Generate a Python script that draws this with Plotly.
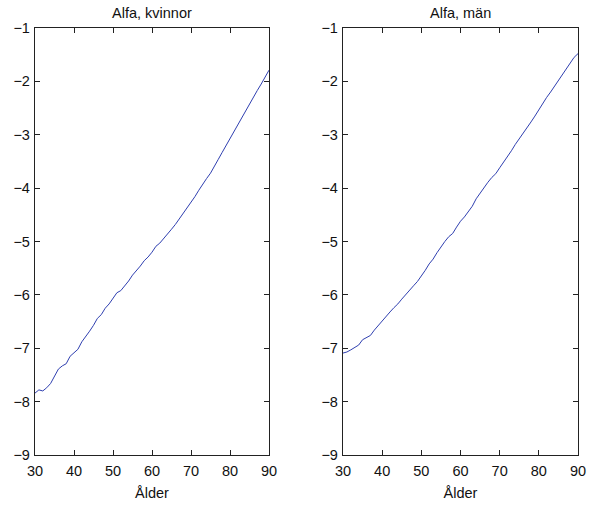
import plotly.graph_objects as go
from plotly.subplots import make_subplots

ages = list(range(30, 91))
alfa_kvinnor = [-7.84, -7.78, -7.80, -7.74, -7.66, -7.53, -7.39, -7.33, -7.29, -7.15,
                -7.09, -7.02, -6.88, -6.79, -6.68, -6.57, -6.44, -6.37, -6.25, -6.17,
                -6.06, -5.96, -5.92, -5.84, -5.74, -5.63, -5.55, -5.46, -5.36, -5.29,
                -5.20, -5.09, -5.03, -4.95, -4.86, -4.77, -4.68, -4.58, -4.48, -4.37,
                -4.27, -4.16, -4.04, -3.92, -3.82, -3.72, -3.60, -3.46, -3.33, -3.20,
                -3.06, -2.94, -2.80, -2.67, -2.55, -2.43, -2.30, -2.17, -2.05, -1.93,
                -1.79]
alfa_man = [-7.09, -7.07, -7.03, -6.99, -6.94, -6.84, -6.80, -6.76, -6.66, -6.57,
            -6.50, -6.41, -6.32, -6.24, -6.17, -6.08, -5.99, -5.91, -5.83, -5.75,
            -5.65, -5.54, -5.42, -5.33, -5.21, -5.10, -5.00, -4.91, -4.85, -4.73,
            -4.62, -4.54, -4.45, -4.34, -4.20, -4.09, -3.98, -3.89, -3.80, -3.73,
            -3.62, -3.52, -3.41, -3.30, -3.18, -3.08, -2.98, -2.86, -2.76, -2.65,
            -2.53, -2.41, -2.30, -2.20, -2.09, -1.99, -1.87, -1.75, -1.65, -1.55,
            -1.48]
titles = ["Alfa, kvinnor", "Alfa, män"]
x_title = "Ålder"
x_ticks = [30, 40, 50, 60, 70, 80, 90]
y_ticks = [-9, -8, -7, -6, -5, -4, -3, -2, -1]

W, H = 593, 505
fig = make_subplots(rows=1, cols=2)
line_color = "#2f3fb0"
for i, ys in enumerate([alfa_kvinnor, alfa_man]):
    fig.add_trace(go.Scatter(x=ages, y=ys, mode="lines",
                             line=dict(color=line_color, width=1),
                             showlegend=False, hoverinfo="skip"), row=1, col=i + 1)

font = dict(family="Liberation Sans, Arial, sans-serif", size=14.5, color="#111")
xdoms = [(35 / W, 269 / W), (343 / W, 578 / W)]
ydom = (1 - 455 / H, 1 - 28 / H)
for i in range(2):
    sfx = "" if i == 0 else "2"
    fig.layout["xaxis" + sfx].update(
        domain=list(xdoms[i]), range=[30, 90], tickvals=x_ticks, automargin=False,
        ticks="inside", ticklen=5, tickcolor="#222", showline=True, linecolor="#222",
        linewidth=1.3, mirror="allticks", showgrid=False, zeroline=False,
        tickfont=font, ticklabelstandoff=2,
        title=dict(text=x_title, font=font, standoff=10))
    fig.layout["yaxis" + sfx].update(
        domain=list(ydom), range=[-9, -1], tickvals=y_ticks, automargin=False,
        ticks="inside", ticklen=5, tickcolor="#222", showline=True, linecolor="#222",
        linewidth=1.3, mirror="allticks", showgrid=False, zeroline=False,
        tickfont=font, ticklabelstandoff=1)
    fig.add_annotation(text=titles[i], x=(xdoms[i][0] + xdoms[i][1]) / 2,
                       y=1 - 13 / H, xref="paper", yref="paper", showarrow=False,
                       font=font, xanchor="center", yanchor="middle")

fig.update_layout(width=W, height=H, margin=dict(l=0, r=0, t=0, b=0),
                  plot_bgcolor="white", paper_bgcolor="white", font=font)
fig.write_html("out.html")
